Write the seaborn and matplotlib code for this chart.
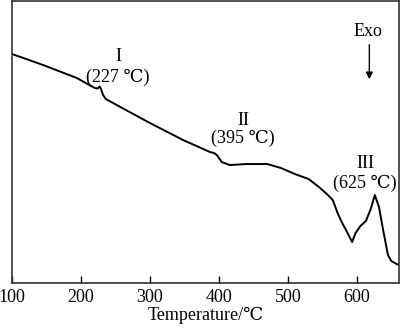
import matplotlib
matplotlib.use("Agg")
import matplotlib.pyplot as plt
import seaborn as sns
import pandas as pd

temperature = [100, 145, 194, 220, 224, 227, 229, 232, 236, 257, 300, 348, 387,
               393, 397, 404, 416, 440, 470, 490, 510, 530, 545, 558, 565,
               572, 578, 585, 593, 598, 605, 613, 620, 626, 632, 638, 645, 650,
               655, 661]
signal_px = [54, 65, 78, 88, 88.5, 86.5, 89, 95, 99, 107, 123, 140, 152,
             153, 155, 162, 165, 164, 164, 168, 174, 179, 187, 195, 200,
             213, 222, 231, 242, 233, 226, 221, 209, 195, 207, 230, 255, 261,
             263, 265]
signal = [283 - v for v in signal_px]

xticks = [100, 200, 300, 400, 500, 600]
peak_labels = ["I", "II", "III"]
peak_temps = ["(227 ℃)", "(395 ℃)", "(625 ℃)"]
label_x = [254, 435, 612]
label_y_top = [226, 163, 120]
label_y_bot = [206, 145, 100]

df = pd.DataFrame({"Temperature": temperature, "Signal": signal})

sns.set_style("ticks")
fam = ["Liberation Serif", "DejaVu Serif", "Noto Sans CJK SC"]
plt.rcParams["font.family"] = fam
plt.rcParams["text.color"] = "black"
plt.rcParams["axes.labelcolor"] = "black"
plt.rcParams["xtick.color"] = "black"

fig = plt.figure(figsize=(4.0, 3.28), dpi=100)
ax = fig.add_axes([0.03, 0.137, 0.9675, 0.86])
sns.lineplot(data=df, x="Temperature", y="Signal", ax=ax, color="black",
             linewidth=1.4, estimator=None, sort=False)

ax.set_xlim(100, 661)
ax.set_ylim(0, 282)
ax.set_xticks(xticks)
ax.set_xticklabels([str(t) for t in xticks])
ax.set_yticks([])
ax.tick_params(axis="x", direction="in", length=5, width=1, labelsize=13,
               pad=4, colors="black")
for s in ax.spines.values():
    s.set_visible(True)
    s.set_linewidth(1.2)
    s.set_color("#333333")
ax.set_xlabel("Temperature/℃", fontsize=13, labelpad=1, color="black")
ax.set_ylabel("")

for lab, t, x, yt, yb in zip(peak_labels, peak_temps, label_x, label_y_top, label_y_bot):
    ax.text(x, yt, lab, ha="center", va="center", fontsize=13, color="black")
    ax.text(x, yb, t, ha="center", va="center", fontsize=13, color="black")

ax.text(616, 251, "Exo", ha="center", va="center", fontsize=13, color="black")
ax.annotate("", xy=(618, 201), xytext=(618, 241),
            arrowprops=dict(arrowstyle="-|>", color="black", lw=1.0,
                            mutation_scale=10))

fig.savefig("out.png", dpi=100)
